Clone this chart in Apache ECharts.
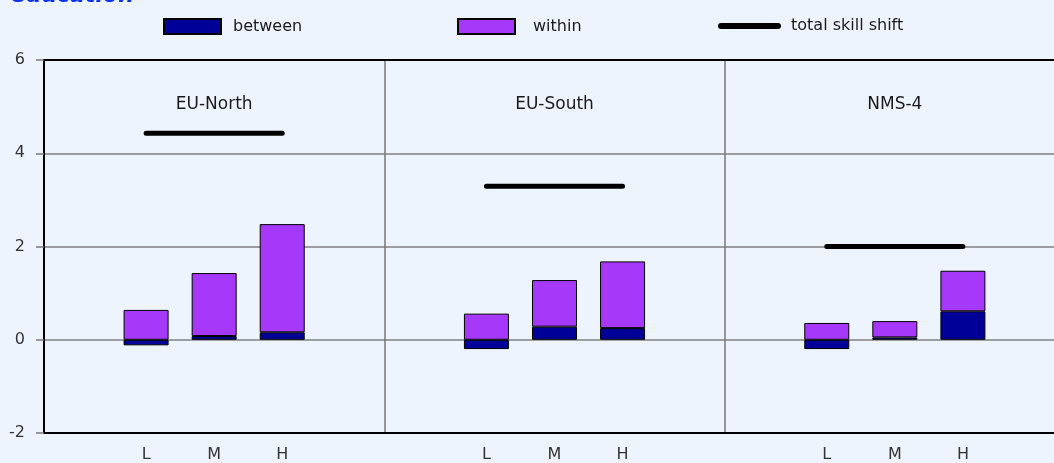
<!DOCTYPE html>
<html>
<head>
<meta charset="utf-8">
<script src="https://cdn.jsdelivr.net/npm/echarts@6/dist/echarts.min.js"></script>
<style>
html,body{margin:0;padding:0;background:#EEF4FE;overflow:hidden;width:1054px;height:463px;}
#chart{width:1080px;height:463px;}
</style>
</head>
<body>
<div id="chart"></div>
<script>
// ---- data ----
var regions = ['EU-North', 'EU-South', 'NMS-4'];
var levels = ['L', 'M', 'H'];
var betweenNorth = [-0.12, 0.08, 0.16];
var withinNorth  = [0.64, 1.35, 2.32];
var betweenSouth = [-0.20, 0.28, 0.25];
var withinSouth  = [0.56, 1.00, 1.43];
var betweenNMS   = [-0.20, 0.05, 0.61];
var withinNMS    = [0.36, 0.35, 0.87];
var totalShift   = [4.43, 3.29, 2.00];
var regionLabelValue = 5.05;
var yTicks = [-2, 0, 2, 4, 6];

var betweenAll = [betweenNorth, betweenSouth, betweenNMS];
var withinAll = [withinNorth, withinSouth, withinNMS];

// build 15 category slots: blank, L, M, H, blank per region
var cats = [], tickLabels = [], between = [], within = [], total = [], regionPts = [];
regions.forEach(function (r, ri) {
  var slot = [''].concat(levels).concat(['']);
  slot.forEach(function (s, si) {
    cats.push(r + '_' + si);
    tickLabels.push(s);
    var li = si - 1;
    if (li >= 0 && li < levels.length) {
      between.push(betweenAll[ri][li]);
      within.push(withinAll[ri][li]);
      total.push(totalShift[ri]);
    } else {
      between.push(null); within.push(null); total.push(null);
    }
    regionPts.push(si === 2 ? { value: regionLabelValue, name: r } : null);
  });
});

var font = 'DejaVu Sans';
var txt = '#1a1a1a';
var chart = echarts.init(document.getElementById('chart'));
chart.setOption({
  backgroundColor: '#EEF4FE',
  animation: false,
  textStyle: { fontFamily: font },
  title: {
    text: 'by education',
    left: -32, top: -20,
    textStyle: { color: '#0A32F0', fontSize: 22, fontWeight: 'bold', fontStyle: 'italic', fontFamily: font }
  },
  legend: [
    { data: [{ name: 'between', icon: 'rect' }], left: 158, top: 13, itemWidth: 57, itemHeight: 15,
      textStyle: { fontSize: 16, color: txt, padding: [0, 0, 0, 7] } },
    { data: [{ name: 'within', icon: 'rect' }], left: 452, top: 13, itemWidth: 57, itemHeight: 15,
      textStyle: { fontSize: 16, color: txt, padding: [0, 0, 0, 13] } },
    { data: [{ name: 'total skill shift',
        icon: 'path://M3,0 L60,0 A3,3 0 0 1 60,6 L3,6 A3,3 0 0 1 3,0 Z' }],
      left: 713, top: 13, itemWidth: 63, itemHeight: 6,
      itemStyle: { color: '#000', borderWidth: 0 },
      textStyle: { fontSize: 16, color: txt, padding: [0, 0, 0, 5] } }
  ],
  grid: { left: 44, top: 60, width: 1021, height: 374, containLabel: false },
  xAxis: [
    {
      type: 'category', data: cats, position: 'bottom',
      axisLine: { onZero: false, lineStyle: { color: '#000', width: 2 } },
      axisTick: { show: false },
      axisLabel: { interval: 0, margin: 14, fontSize: 16, color: '#333',
        formatter: function (v, i) { return tickLabels[i]; } },
      splitLine: { show: false }
    },
    {
      type: 'value', min: 0, max: 15, interval: 5, position: 'top',
      axisLine: { show: true, onZero: false, lineStyle: { color: '#000', width: 2 } },
      axisTick: { show: false }, axisLabel: { show: false },
      splitLine: { show: true, showMinLine: false, showMaxLine: false,
        lineStyle: { color: '#777', width: 1.5 } }
    }
  ],
  yAxis: {
    type: 'value', min: -2, max: 6, interval: 2,
    axisLine: { show: true, lineStyle: { color: '#000', width: 2 } },
    axisTick: { show: true, length: 8, lineStyle: { color: '#777', width: 1.5 } },
    axisLabel: { margin: 19, fontSize: 16, color: '#333',
      formatter: function (v) { return yTicks.indexOf(v) >= 0 ? String(v) : ''; } },
    splitLine: { show: true, showMinLine: false, showMaxLine: false,
      lineStyle: { color: '#808080', width: 1.5 } }
  },
  series: [
    { name: 'between', type: 'bar', stack: 'a', data: between, barWidth: 45,
      itemStyle: { color: '#000099', borderColor: '#000', borderWidth: 1 } },
    { name: 'within', type: 'bar', stack: 'a', data: within, barWidth: 45,
      itemStyle: { color: '#A638FA', borderColor: '#000', borderWidth: 1 } },
    { name: 'total skill shift', type: 'line', data: total, symbol: 'none', connectNulls: false,
      itemStyle: { color: '#000' },
      lineStyle: { color: '#000', width: 5, cap: 'round' }, z: 4 },
    { name: 'regions', type: 'scatter', data: regionPts, symbolSize: 0,
      itemStyle: { opacity: 1 },
      label: { show: true, position: 'inside', fontSize: 17, color: txt,
        formatter: function (p) { return p.name; } } }
  ]
});
</script>
</body>
</html>
